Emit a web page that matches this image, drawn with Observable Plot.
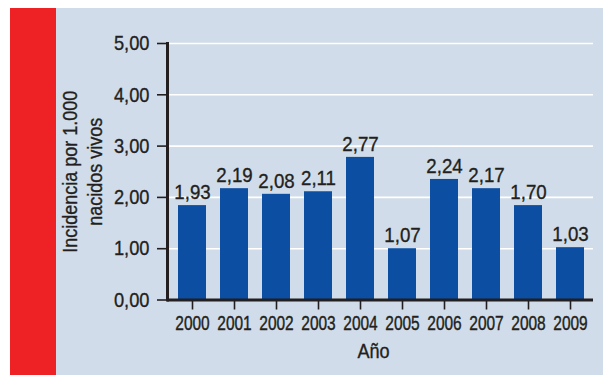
<!DOCTYPE html>
<html>
<head>
<meta charset="utf-8">
<script src="https://cdn.jsdelivr.net/npm/d3@7"></script>
<script src="https://cdn.jsdelivr.net/npm/@observablehq/plot@0.6"></script>
<style>
  html, body { margin: 0; padding: 0; background: #ffffff; }
  #chart {
    width: 603px; height: 375px;
    background:
      linear-gradient(to bottom, #ffffff 8px, rgba(255,255,255,0) 8px),
      linear-gradient(to right, #ffffff 10px, #ee2224 10px, #ee2224 56px, #d0dce9 56px);
  }
  #chart svg { display: block; }
  #chart svg text { stroke: #231f20; stroke-width: 0.35px; }
</style>
</head>
<body>
<div id="chart"></div>
<script>
const years = ["2000","2001","2002","2003","2004","2005","2006","2007","2008","2009"];
// bar heights as drawn in the picture
const heights = [1.84, 2.17, 2.06, 2.11, 2.78, 1.00, 2.35, 2.17, 1.84, 1.02];
// value labels as printed above the bars
const labels = ["1,93","2,19","2,08","2,11","2,77","1,07","2,24","2,17","1,70","1,03"];
const yTicks = [0, 1, 2, 3, 4, 5];
const yTitleLines = ["Incidencia por 1.000", "nacidos vivos"];
const xTitle = "Año";

const data = years.map((y, i) => ({year: y, value: heights[i], label: labels[i]}));
const font = "'Liberation Sans', Arial, Helvetica, sans-serif";
const ink = "#231f20";

const chart = Plot.plot({
  width: 603,
  height: 375,
  marginLeft: 167,
  marginRight: 10,
  marginTop: 43,
  marginBottom: 75.5,
  style: {fontFamily: font, color: ink, background: "transparent", overflow: "visible"},
  x: {domain: years, insetLeft: 4, insetRight: 2, paddingInner: 1/3, paddingOuter: 1/6},
  y: {domain: [0, 5]},
  marks: [
    Plot.ruleY(yTicks.slice(1), {y: d => d, stroke: "#ffffff", strokeWidth: 1.6}),
    Plot.barY(data, {x: "year", y: "value", fill: "#0b4ea2"}),
    Plot.text(data, {x: "year", y: "value", text: "label", dy: -13, fontSize: 21, fill: ink, className: "c-barlabel"}),
    Plot.axisY(yTicks, {
      tickSize: 10, tickPadding: 8, strokeWidth: 1.6, stroke: ink,
      tickFormat: d => d3.format(".2f")(d).replace(".", ","),
      fontSize: 21, fill: ink, label: null, className: "c-ytick"
    }),
    Plot.axisX({tickSize: 10, tickPadding: 5, strokeWidth: 1.6, stroke: ink, fontSize: 17.5, fill: ink, label: null, className: "c-xtick"}),
    Plot.frame({anchor: "left", stroke: ink, strokeWidth: 3}),
    Plot.ruleY([0], {stroke: ink, strokeWidth: 3}),
    Plot.text([yTitleLines[0]], {frameAnchor: "left", rotate: -90, textAnchor: "middle", lineAnchor: "middle", dx: -96.5, fontSize: 20, fill: ink, className: "c-title"}),
    Plot.text([yTitleLines[1]], {frameAnchor: "left", rotate: -90, textAnchor: "middle", lineAnchor: "middle", dx: -71.5, fontSize: 20, fill: ink, className: "c-title"}),
    Plot.text([xTitle], {frameAnchor: "bottom", lineAnchor: "middle", dy: 51.5, dx: -7, fontSize: 21, fill: ink, className: "c-xtitle"})
  ]
});
document.getElementById("chart").appendChild(chart);

// condensed lettering, like the original typeface
const squeeze = {"c-barlabel": 0.89, "c-ytick": 0.87, "c-xtick": 0.885, "c-title": 0.9, "c-xtitle": 0.86};
for (const [cls, f] of Object.entries(squeeze)) {
  chart.querySelectorAll("." + cls + " text").forEach(t => {
    const len = t.getComputedTextLength();
    t.setAttribute("textLength", (len * f).toFixed(2));
    t.setAttribute("lengthAdjust", "spacingAndGlyphs");
  });
}
// taller year labels (condensed face has tall digits)
chart.querySelectorAll(".c-xtick text").forEach(t => {
  const tr = t.getAttribute("transform") || "";
  t.setAttribute("transform", tr + " scale(1,1.2)");
});
</script>
</body>
</html>
